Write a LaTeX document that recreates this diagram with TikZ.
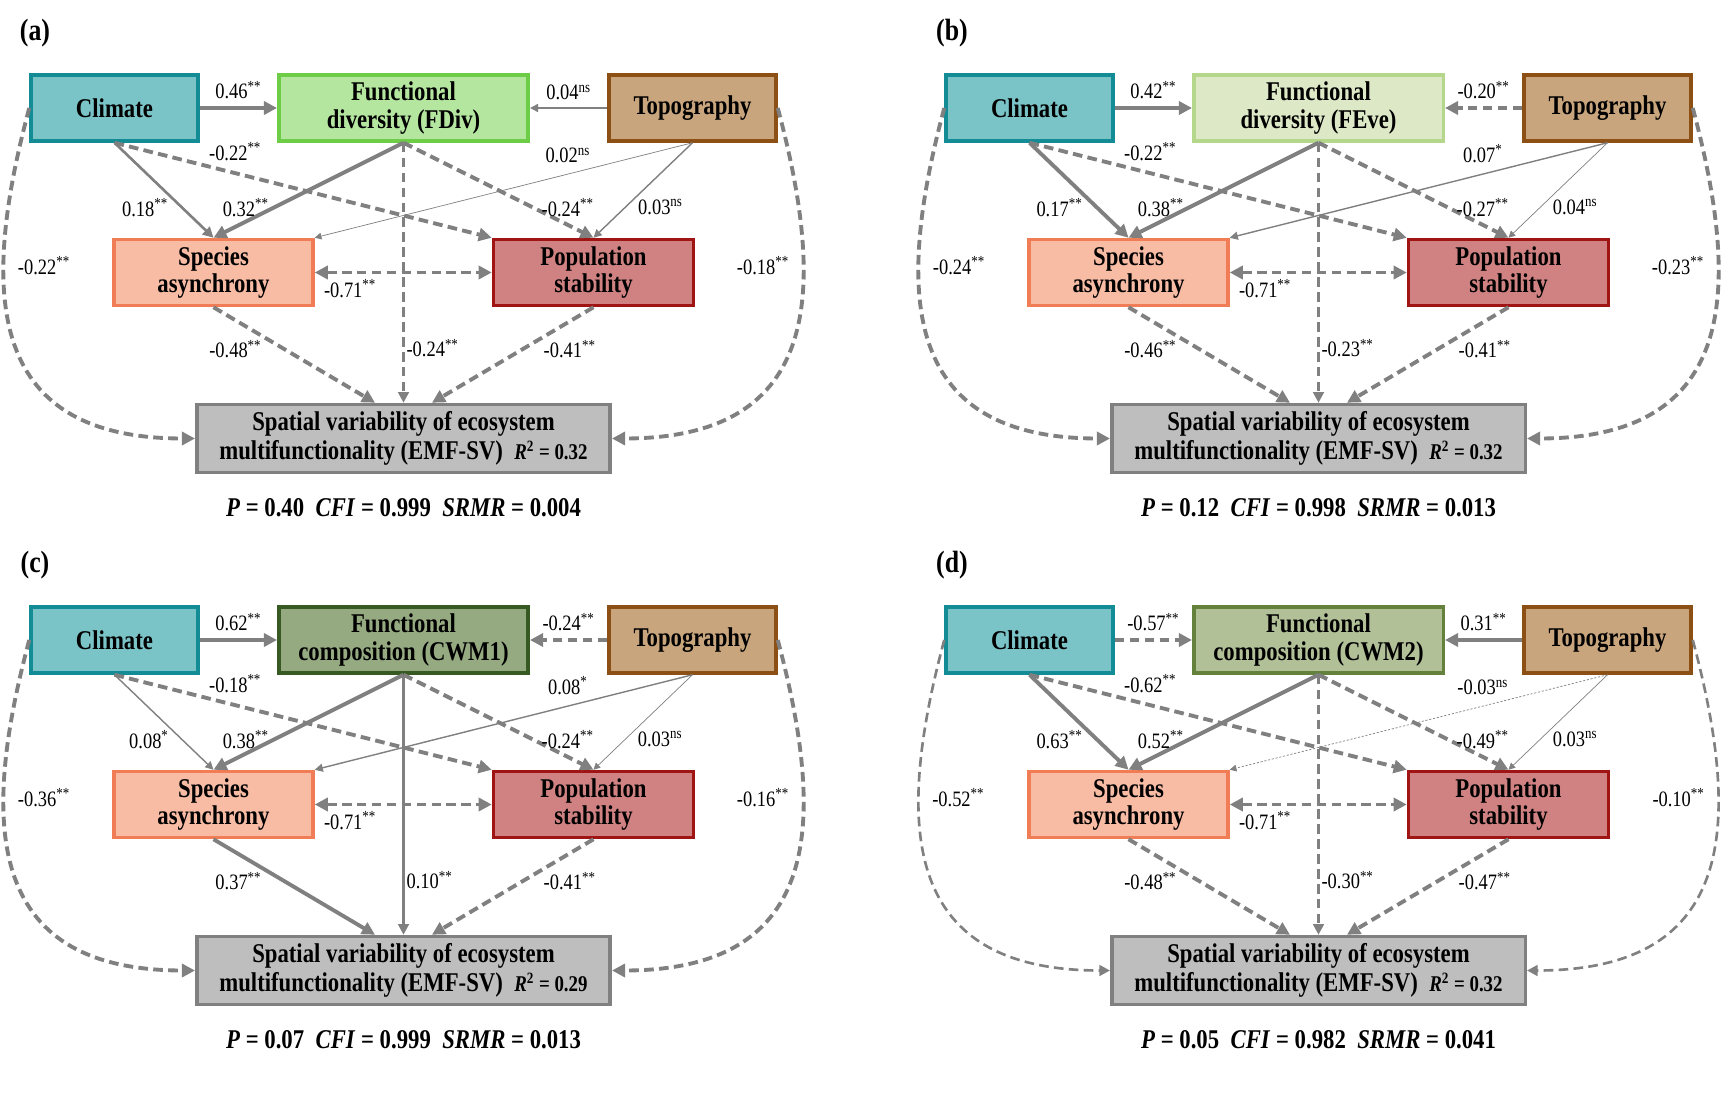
\documentclass[tikz,border=0pt]{standalone}
\usepackage{fontspec}
\setmainfont{Liberation Serif}[FakeStretch=0.84]
\usetikzlibrary{arrows.meta}
\usepackage{xcolor}

\definecolor{arrgray}{RGB}{128,128,128}
\definecolor{climfill}{RGB}{122,196,200}
\definecolor{climdraw}{RGB}{20,140,150}
\definecolor{fdivfill}{RGB}{180,230,160}
\definecolor{fdivdraw}{RGB}{110,205,70}
\definecolor{fevefill}{RGB}{221,232,198}
\definecolor{fevedraw}{RGB}{180,215,140}
\definecolor{cwmafill}{RGB}{150,170,130}
\definecolor{cwmadraw}{RGB}{55,90,35}
\definecolor{cwmbfill}{RGB}{178,192,152}
\definecolor{cwmbdraw}{RGB}{100,130,60}
\definecolor{topofill}{RGB}{200,165,125}
\definecolor{topodraw}{RGB}{140,80,20}
\definecolor{specfill}{RGB}{248,188,165}
\definecolor{specdraw}{RGB}{240,125,85}
\definecolor{popfill}{RGB}{208,130,130}
\definecolor{popdraw}{RGB}{160,20,20}
\definecolor{emffill}{RGB}{190,190,190}
\definecolor{emfdraw}{RGB}{128,128,128}

\newcommand{\pstar}[1]{\textsuperscript{#1}}
\newcommand{\rsq}[1]{{\fontsize{12.8}{14}\selectfont\textit{R}\textsuperscript{2} = #1}}

\tikzset{
  box/.style={draw,line width=2pt,minimum height=1.32cm,align=center,inner sep=2pt,font=\fontsize{15.4}{15.6}\selectfont\bfseries},
  climbox/.style={box,fill=climfill,draw=climdraw,minimum width=3.34cm},
  funcbox/.style={box,minimum width=4.99cm},
  topobox/.style={box,fill=topofill,draw=topodraw,minimum width=3.34cm},
  specbox/.style={box,fill=specfill,draw=specdraw,minimum width=3.98cm},
  popbox/.style={box,fill=popfill,draw=popdraw,minimum width=4.0cm},
  emfbox/.style={box,fill=emffill,draw=emfdraw,minimum width=8.27cm,minimum height=1.36cm,font=\fontsize{15.4}{16.2}\selectfont\bfseries},
  lab/.style={inner sep=1pt,font=\fontsize{12.5}{13}\selectfont},
  paneltag/.style={font=\fontsize{17.5}{19}\selectfont\bfseries},
  fitline/.style={font=\fontsize{15.4}{17}\selectfont\bfseries},
  solidarr/.style={draw=arrgray,->},
  dasharr/.style={draw=arrgray,->,dash pattern=on 5.5pt off 3pt},
  w0/.style={line width=0.4pt},
  w1/.style={line width=0.8pt},
  w2/.style={line width=1.5pt},
  w3/.style={line width=2.2pt}
}

\begin{document}
\begin{tikzpicture}[>={Triangle[length=3pt 2,width=3pt 2]}]
\useasboundingbox (0,0) rectangle (34.48,-21.96);
\fill[white] (0,0) rectangle (34.48,-21.96);

\begin{scope}[name prefix=a-]
\node[paneltag] (tag) at (0.70,-0.66) {(a)};
\node[climbox] (clim) at (2.29,-2.16) {Climate};
\node[funcbox,fill=fdivfill,draw=fdivdraw] (func) at (8.07,-2.16) {Functional\\diversity (FDiv)};
\node[topobox] (topo) at (13.85,-2.16) {Topography};
\node[specbox] (spec) at (4.27,-5.45) {Species\\asynchrony};
\node[popbox] (popu) at (11.87,-5.45) {Population\\stability};
\node[emfbox] (emf) at (8.07,-8.77) {Spatial variability of ecosystem\\multifunctionality (EMF-SV)\ \ \rsq{0.32}};
\node[fitline] (fit) at (8.07,-10.16) {\textit{P} = 0.40\ \ \textit{CFI} = 0.999\ \ \textit{SRMR} = 0.004};
\draw[solidarr,w3] (clim) -- (func) node[lab,midway,above=3pt] {0.46\pstar{**}};
\draw[solidarr,w1] (topo) -- (func) node[lab,midway,above=3pt] {0.04\pstar{ns}};
\draw[solidarr,w2] (clim.south) -- (spec.north) node[lab,pos=0.68,left=6pt] {0.18\pstar{**}};
\draw[solidarr,w3] (func.south) -- (spec.north) node[lab,pos=0.68,left=1pt] {0.32\pstar{**}};
\draw[dasharr,w3] (clim.south) -- (popu.north west) node[lab,pos=0.32,above=5pt] {-0.22\pstar{**}};
\draw[solidarr,w0] (topo.south) -- (spec.north east) node[lab,pos=0.33,above=5pt] {0.02\pstar{ns}};
\draw[dasharr,w3] (func.south) -- (popu.north) node[lab,pos=0.68,right=3pt] {-0.24\pstar{**}};
\draw[solidarr,w1] (topo.south) -- (popu.north) node[lab,pos=0.68,right=6pt] {0.03\pstar{ns}};
\draw[dasharr,w3,<->] (spec) -- (popu) node[lab,pos=0.2,below=2pt] {-0.71\pstar{**}};
\draw[dasharr,w3] (spec.south) -- ([xshift=-0.57cm]emf.north) node[lab,pos=0.44,left=11pt] {-0.48\pstar{**}};
\draw[dasharr,w2] (func.south) -- (emf.north) node[lab,pos=0.79,right=0pt] {-0.24\pstar{**}};
\draw[dasharr,w3] (popu.south) -- ([xshift=0.57cm]emf.north) node[lab,pos=0.44,right=10pt] {-0.41\pstar{**}};
\draw[dasharr,w3] (clim.west) to[out=255,in=180,looseness=1.4] node[lab,pos=0.3,right=6pt] {-0.22\pstar{**}} (emf.west);
\draw[dasharr,w3] (topo.east) to[out=285,in=0,looseness=1.4] node[lab,pos=0.3,left=6pt] {-0.18\pstar{**}} (emf.east);
\end{scope}

\begin{scope}[shift={(18.30,0)},name prefix=b-]
\node[paneltag] (tag) at (0.74,-0.66) {(b)};
\node[climbox] (clim) at (2.29,-2.16) {Climate};
\node[funcbox,fill=fevefill,draw=fevedraw] (func) at (8.07,-2.16) {Functional\\diversity (FEve)};
\node[topobox] (topo) at (13.85,-2.16) {Topography};
\node[specbox] (spec) at (4.27,-5.45) {Species\\asynchrony};
\node[popbox] (popu) at (11.87,-5.45) {Population\\stability};
\node[emfbox] (emf) at (8.07,-8.77) {Spatial variability of ecosystem\\multifunctionality (EMF-SV)\ \ \rsq{0.32}};
\node[fitline] (fit) at (8.07,-10.16) {\textit{P} = 0.12\ \ \textit{CFI} = 0.998\ \ \textit{SRMR} = 0.013};
\draw[solidarr,w3] (clim) -- (func) node[lab,midway,above=3pt] {0.42\pstar{**}};
\draw[dasharr,w3] (topo) -- (func) node[lab,midway,above=3pt] {-0.20\pstar{**}};
\draw[solidarr,w3] (clim.south) -- (spec.north) node[lab,pos=0.68,left=6pt] {0.17\pstar{**}};
\draw[solidarr,w3] (func.south) -- (spec.north) node[lab,pos=0.68,left=1pt] {0.38\pstar{**}};
\draw[dasharr,w3] (clim.south) -- (popu.north west) node[lab,pos=0.32,above=5pt] {-0.22\pstar{**}};
\draw[solidarr,w1] (topo.south) -- (spec.north east) node[lab,pos=0.33,above=5pt] {0.07\pstar{*}};
\draw[dasharr,w3] (func.south) -- (popu.north) node[lab,pos=0.68,right=3pt] {-0.27\pstar{**}};
\draw[solidarr,w0] (topo.south) -- (popu.north) node[lab,pos=0.68,right=6pt] {0.04\pstar{ns}};
\draw[dasharr,w3,<->] (spec) -- (popu) node[lab,pos=0.2,below=2pt] {-0.71\pstar{**}};
\draw[dasharr,w3] (spec.south) -- ([xshift=-0.57cm]emf.north) node[lab,pos=0.44,left=11pt] {-0.46\pstar{**}};
\draw[dasharr,w2] (func.south) -- (emf.north) node[lab,pos=0.79,right=0pt] {-0.23\pstar{**}};
\draw[dasharr,w3] (popu.south) -- ([xshift=0.57cm]emf.north) node[lab,pos=0.44,right=10pt] {-0.41\pstar{**}};
\draw[dasharr,w3] (clim.west) to[out=255,in=180,looseness=1.4] node[lab,pos=0.3,right=6pt] {-0.24\pstar{**}} (emf.west);
\draw[dasharr,w3] (topo.east) to[out=285,in=0,looseness=1.4] node[lab,pos=0.3,left=6pt] {-0.23\pstar{**}} (emf.east);
\end{scope}

\begin{scope}[shift={(0,-10.64)},name prefix=c-]
\node[paneltag] (tag) at (0.70,-0.66) {(c)};
\node[climbox] (clim) at (2.29,-2.16) {Climate};
\node[funcbox,fill=cwmafill,draw=cwmadraw] (func) at (8.07,-2.16) {Functional\\composition (CWM1)};
\node[topobox] (topo) at (13.85,-2.16) {Topography};
\node[specbox] (spec) at (4.27,-5.45) {Species\\asynchrony};
\node[popbox] (popu) at (11.87,-5.45) {Population\\stability};
\node[emfbox] (emf) at (8.07,-8.77) {Spatial variability of ecosystem\\multifunctionality (EMF-SV)\ \ \rsq{0.29}};
\node[fitline] (fit) at (8.07,-10.16) {\textit{P} = 0.07\ \ \textit{CFI} = 0.999\ \ \textit{SRMR} = 0.013};
\draw[solidarr,w3] (clim) -- (func) node[lab,midway,above=3pt] {0.62\pstar{**}};
\draw[dasharr,w3] (topo) -- (func) node[lab,midway,above=3pt] {-0.24\pstar{**}};
\draw[solidarr,w1] (clim.south) -- (spec.north) node[lab,pos=0.68,left=6pt] {0.08\pstar{*}};
\draw[solidarr,w3] (func.south) -- (spec.north) node[lab,pos=0.68,left=1pt] {0.38\pstar{**}};
\draw[dasharr,w3] (clim.south) -- (popu.north west) node[lab,pos=0.32,above=5pt] {-0.18\pstar{**}};
\draw[solidarr,w1] (topo.south) -- (spec.north east) node[lab,pos=0.33,above=5pt] {0.08\pstar{*}};
\draw[dasharr,w3] (func.south) -- (popu.north) node[lab,pos=0.68,right=3pt] {-0.24\pstar{**}};
\draw[solidarr,w0] (topo.south) -- (popu.north) node[lab,pos=0.68,right=6pt] {0.03\pstar{ns}};
\draw[dasharr,w3,<->] (spec) -- (popu) node[lab,pos=0.2,below=2pt] {-0.71\pstar{**}};
\draw[solidarr,w3] (spec.south) -- ([xshift=-0.57cm]emf.north) node[lab,pos=0.44,left=11pt] {0.37\pstar{**}};
\draw[solidarr,w2] (func.south) -- (emf.north) node[lab,pos=0.79,right=0pt] {0.10\pstar{**}};
\draw[dasharr,w3] (popu.south) -- ([xshift=0.57cm]emf.north) node[lab,pos=0.44,right=10pt] {-0.41\pstar{**}};
\draw[dasharr,w3] (clim.west) to[out=255,in=180,looseness=1.4] node[lab,pos=0.3,right=6pt] {-0.36\pstar{**}} (emf.west);
\draw[dasharr,w3] (topo.east) to[out=285,in=0,looseness=1.4] node[lab,pos=0.3,left=6pt] {-0.16\pstar{**}} (emf.east);
\end{scope}

\begin{scope}[shift={(18.30,-10.64)},name prefix=d-]
\node[paneltag] (tag) at (0.74,-0.66) {(d)};
\node[climbox] (clim) at (2.29,-2.16) {Climate};
\node[funcbox,fill=cwmbfill,draw=cwmbdraw] (func) at (8.07,-2.16) {Functional\\composition (CWM2)};
\node[topobox] (topo) at (13.85,-2.16) {Topography};
\node[specbox] (spec) at (4.27,-5.45) {Species\\asynchrony};
\node[popbox] (popu) at (11.87,-5.45) {Population\\stability};
\node[emfbox] (emf) at (8.07,-8.77) {Spatial variability of ecosystem\\multifunctionality (EMF-SV)\ \ \rsq{0.32}};
\node[fitline] (fit) at (8.07,-10.16) {\textit{P} = 0.05\ \ \textit{CFI} = 0.982\ \ \textit{SRMR} = 0.041};
\draw[dasharr,w3] (clim) -- (func) node[lab,midway,above=3pt] {-0.57\pstar{**}};
\draw[solidarr,w3] (topo) -- (func) node[lab,midway,above=3pt] {0.31\pstar{**}};
\draw[solidarr,w3] (clim.south) -- (spec.north) node[lab,pos=0.68,left=6pt] {0.63\pstar{**}};
\draw[solidarr,w3] (func.south) -- (spec.north) node[lab,pos=0.68,left=1pt] {0.52\pstar{**}};
\draw[dasharr,w3] (clim.south) -- (popu.north west) node[lab,pos=0.32,above=5pt] {-0.62\pstar{**}};
\draw[dasharr,w0,dash pattern=on 1.2pt off 1pt] (topo.south) -- (spec.north east) node[lab,pos=0.33,above=5pt] {-0.03\pstar{ns}};
\draw[dasharr,w3] (func.south) -- (popu.north) node[lab,pos=0.68,right=3pt] {-0.49\pstar{**}};
\draw[solidarr,w0] (topo.south) -- (popu.north) node[lab,pos=0.68,right=6pt] {0.03\pstar{ns}};
\draw[dasharr,w3,<->] (spec) -- (popu) node[lab,pos=0.2,below=2pt] {-0.71\pstar{**}};
\draw[dasharr,w3] (spec.south) -- ([xshift=-0.57cm]emf.north) node[lab,pos=0.44,left=11pt] {-0.48\pstar{**}};
\draw[dasharr,w2] (func.south) -- (emf.north) node[lab,pos=0.79,right=0pt] {-0.30\pstar{**}};
\draw[dasharr,w3] (popu.south) -- ([xshift=0.57cm]emf.north) node[lab,pos=0.44,right=10pt] {-0.47\pstar{**}};
\draw[dasharr,w2] (clim.west) to[out=255,in=180,looseness=1.4] node[lab,pos=0.3,right=6pt] {-0.52\pstar{**}} (emf.west);
\draw[dasharr,w2] (topo.east) to[out=285,in=0,looseness=1.4] node[lab,pos=0.3,left=6pt] {-0.10\pstar{**}} (emf.east);
\end{scope}
\end{tikzpicture}
\end{document}
